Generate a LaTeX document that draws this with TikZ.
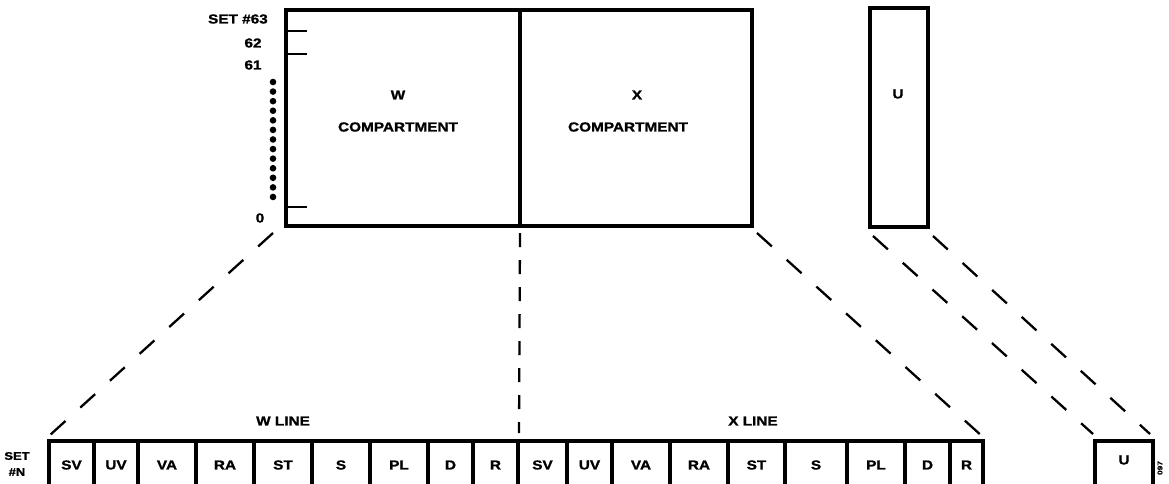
\documentclass[tikz,border=0pt]{standalone}
\usepackage{fontspec}
\setmainfont{Liberation Sans}[FakeStretch=1.18,BoldFeatures={FakeBold=1.3}]
\begin{document}
\begin{tikzpicture}[x=1pt,y=-1pt,
  box/.style={draw,line width=3.6pt,rectangle,inner sep=0pt,outer sep=0pt,anchor=north west},
  cell/.style={draw,line width=3.4pt,rectangle,inner sep=0pt,outer sep=0pt,anchor=north west,minimum height=70pt},
  lbl/.style={font=\fontsize{13}{15}\selectfont\bfseries,inner sep=0pt},
  small/.style={font=\fontsize{11}{13}\selectfont\bfseries,inner sep=0pt},
  tiny/.style={font=\fontsize{7}{8}\selectfont\bfseries,inner sep=0pt},
  dashline/.style={line width=2.3pt,dash pattern=on 20pt off 20pt},
  vdash/.style={line width=2.3pt,dash pattern=on 14pt off 13pt},
  tickline/.style={line width=1.6pt}]
\useasboundingbox (0,0) rectangle (1169,483);
\clip (0,0) rectangle (1169,483);

% top compartments
\node[box,minimum width=234pt,minimum height=216pt] (wbox) at (286,10) {};
\node[box,minimum width=232pt,minimum height=216pt] (xbox) at (520,10) {};
\node[box,minimum width=58pt,minimum height=219pt] (ubox) at (870,8) {};

\node[lbl] (wl1) at (398,95) {W};
\node[lbl] (wl2) at (398,127) {COMPARTMENT};
\node[lbl] (xl1) at (637,95) {X};
\node[lbl] (xl2) at (628,127) {COMPARTMENT};
\node[lbl] (ul) at (898,94) {U};

% set numbering
\node[lbl,anchor=east] (s63) at (268,19) {SET \#63};
\node[lbl] (s62) at (253,43) {62};
\node[lbl] (s61) at (253,65) {61};
\node[lbl] (s0) at (260,218) {0};
\draw[tickline] ([yshift=-21pt]wbox.north west) -- +(21pt,0);
\draw[tickline] ([yshift=-44pt]wbox.north west) -- +(21pt,0);
\draw[tickline] ([yshift=19pt]wbox.south west) -- +(21pt,0);
\foreach \i in {0,...,12} \fill (273,82+\i*9.58) circle (3.3pt);

% bottom line cells
\foreach \name/\a/\b/\t in {w1/49/94/SV,w2/94/138/UV,w3/138/196/VA,w4/196/254/RA,w5/254/312/ST,w6/312/370/S,w7/370/428/PL,w8/428/473/D,w9/473/518/R,
  x1/518/567/SV,x2/567/612/UV,x3/612/670/VA,x4/670/728/RA,x5/728/785/ST,x6/785/847/S,x7/847/905/PL,x8/905/950/D,x9/950/983/R}{
  \pgfmathsetmacro\w{\b-\a}
  \node[cell,minimum width=\w pt] (\name) at (\a,441) {};
  \node[lbl] (\name t) at ([yshift=-24pt]\name.north) {\t};
}
\node[cell,minimum width=58pt] (u) at (1095,441) {};
\node[lbl] (ut) at ([yshift=-19pt]u.north) {U};

\node[lbl] (wline) at (283,421) {W LINE};
\node[lbl] (xline) at (753,421) {X LINE};
\node[small] (setn1) at (17,456) {SET};
\node[small] (setn2) at (17,472) {\#N};
\node[tiny,rotate=90] (code) at (1160,468) {097};

% dashed projection lines
\draw[dashline] ([xshift=-13pt,yshift=-7pt]wbox.south west) -- ([xshift=1pt,yshift=6pt]w1.north west);
\draw[vdash] ([yshift=-7pt]wbox.south east) -- ([xshift=1pt,yshift=8pt]x1.north west);
\draw[dashline] ([xshift=5pt,yshift=-7pt]xbox.south east) -- ([yshift=4pt]x9.north east);
\draw[dashline] ([xshift=3pt,yshift=-9pt]ubox.south west) -- ([xshift=-2pt,yshift=7pt]u.north west);
\draw[dashline] ([xshift=5pt,yshift=-9pt]ubox.south east) -- ([xshift=-3pt,yshift=7pt]u.north east);
\end{tikzpicture}
\end{document}
